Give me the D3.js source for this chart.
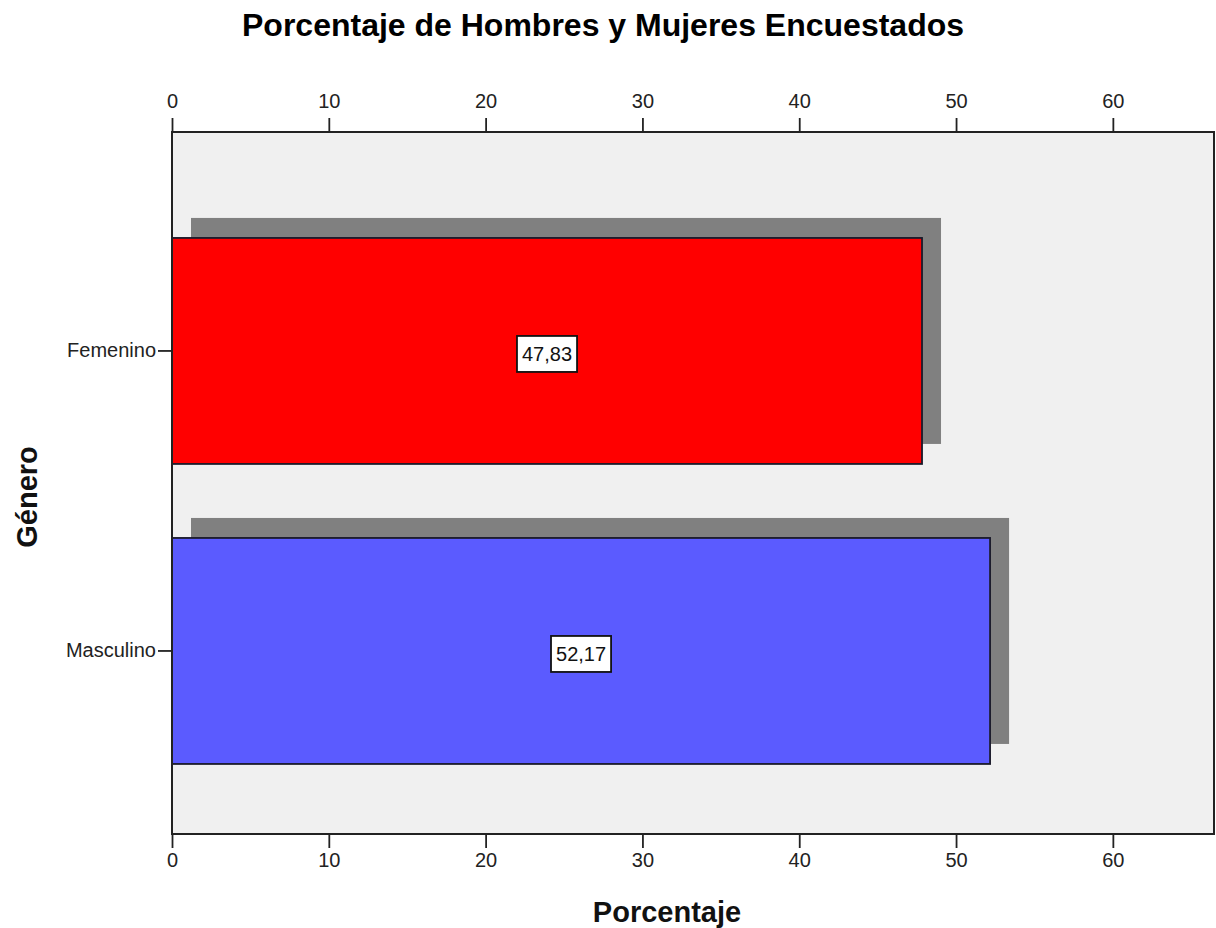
<!DOCTYPE html>
<html>
<head>
<meta charset="utf-8">
<script src="https://cdn.jsdelivr.net/npm/d3@7"></script>
<style>
  html, body { margin: 0; padding: 0; background: #fff; }
  svg { display: block; font-family: "Liberation Sans", Arial, sans-serif; }
</style>
</head>
<body>
<svg id="chart" width="1216" height="928"></svg>
<script>
const categories = ["Femenino", "Masculino"];
const values = [47.83, 52.17];
const valueLabels = ["47,83", "52,17"];
const barColors = ["#ff0000", "#5b5bff"];
const xTicks = [0, 10, 20, 30, 40, 50, 60];
const chartTitle = "Porcentaje de Hombres y Mujeres Encuestados";
const xTitle = "Porcentaje";
const yTitle = "Género";

const svg = d3.select("#chart");
const plot = { left: 172, right: 1214, top: 132, bottom: 834 };

const x = d3.scaleLinear().domain([0, 66.45]).range([plot.left, plot.right]);
const y = d3.scaleBand().domain(categories)
  .range([plot.top, plot.bottom])
  .paddingInner(0.2467)
  .paddingOuter(0.2933)
  .align(0.602);

// background
svg.append("rect")
  .attr("x", plot.left).attr("y", plot.top)
  .attr("width", plot.right - plot.left).attr("height", plot.bottom - plot.top)
  .attr("fill", "#f0f0f0");

const shadowDx = 19, shadowDy = -20;
const data = categories.map((c, i) => ({ c, v: values[i], label: valueLabels[i], color: barColors[i] }));

// shadows
svg.append("g").selectAll("rect").data(data).join("rect")
  .attr("x", x(0) + shadowDx)
  .attr("y", d => y(d.c) + shadowDy)
  .attr("width", d => x(d.v) - x(0))
  .attr("height", y.bandwidth())
  .attr("fill", "#808080");

// bars
svg.append("g").selectAll("rect").data(data).join("rect")
  .attr("x", x(0))
  .attr("y", d => y(d.c))
  .attr("width", d => x(d.v) - x(0))
  .attr("height", y.bandwidth())
  .attr("fill", d => d.color)
  .attr("stroke", "#1a1a2a")
  .attr("stroke-width", 1.8);

// value labels
const lab = svg.append("g").selectAll("g").data(data).join("g")
  .attr("transform", d => `translate(${(x(0) + x(d.v)) / 2},${y(d.c) + y.bandwidth() / 2 + 3})`);
const labRect = lab.append("rect")
  .attr("fill", "#fff").attr("stroke", "#111").attr("stroke-width", 1.8);
const labText = lab.append("text")
  .attr("text-anchor", "middle").attr("dy", "0.35em")
  .attr("font-size", 20).attr("fill", "#111")
  .text(d => d.label);
labText.each(function (d, i) {
  const w = this.getComputedTextLength();
  d3.select(labRect.nodes()[i])
    .attr("x", -w / 2 - 5).attr("y", -18).attr("width", w + 10).attr("height", 36);
});

// frame
svg.append("rect")
  .attr("x", plot.left).attr("y", plot.top)
  .attr("width", plot.right - plot.left).attr("height", plot.bottom - plot.top)
  .attr("fill", "none").attr("stroke", "#222").attr("stroke-width", 2);

// axes
const fmt = d => d3.format("d")(d);
const topAxis = d3.axisTop(x).tickValues(xTicks).tickSize(14).tickPadding(10).tickFormat(fmt);
const botAxis = d3.axisBottom(x).tickValues(xTicks).tickSize(14).tickPadding(5).tickFormat(fmt);
const leftAxis = d3.axisLeft(y).tickSize(14).tickPadding(2);

function styleAxis(g) {
  g.select(".domain").remove();
  g.selectAll(".tick line").attr("stroke", "#222").attr("stroke-width", 1.8);
  g.selectAll(".tick text").attr("font-size", 20).attr("fill", "#222")
    .attr("font-family", "'Liberation Sans', Arial, sans-serif");
}
svg.append("g").attr("transform", `translate(0,${plot.top})`).call(topAxis).call(styleAxis);
svg.append("g").attr("transform", `translate(0,${plot.bottom})`).call(botAxis).call(styleAxis);
svg.append("g").attr("transform", `translate(${plot.left},0)`).call(leftAxis).call(styleAxis);

// titles
svg.append("text")
  .attr("x", 603).attr("y", 36)
  .attr("text-anchor", "middle")
  .attr("font-size", 32).attr("font-weight", "bold").attr("fill", "#000")
  .text(chartTitle);
svg.append("text")
  .attr("x", 667).attr("y", 922)
  .attr("text-anchor", "middle")
  .attr("font-size", 29).attr("font-weight", "bold").attr("fill", "#111")
  .text(xTitle);
svg.append("text")
  .attr("transform", "translate(37,497) rotate(-90)")
  .attr("text-anchor", "middle")
  .attr("font-size", 29).attr("font-weight", "bold").attr("fill", "#111")
  .text(yTitle);
</script>
</body>
</html>
